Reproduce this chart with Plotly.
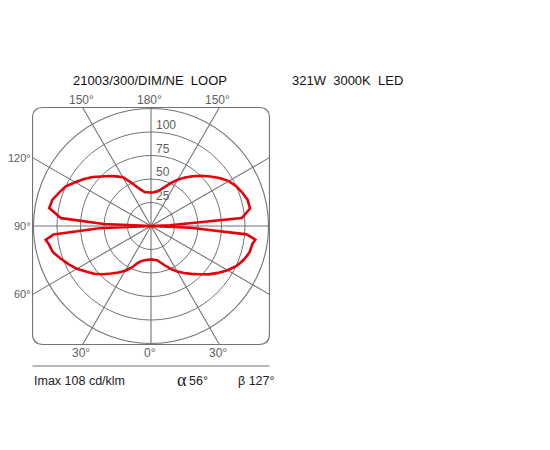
import math
import plotly.graph_objects as go

# ---- data ----
gamma = [0, 5, 10, 15, 20, 25, 30, 35, 40, 45, 50, 55, 60, 65, 70, 75, 80, 82.5, 85, 87.5,
         90, 92.5, 95, 100, 105, 110, 115, 120, 125, 130, 135, 140, 145, 150, 155, 160, 165,
         170, 175, 180]
intensity_right = [35.5, 36, 37, 40.5, 45, 50.5, 56, 61, 66.5, 72.5, 80, 87, 94, 100.5, 105,
                   108.5, 109.5, 112, 102, 42,
                   0, 20, 97, 107, 106.5, 103.5, 100, 95.5, 89, 82, 75.5, 69, 63, 57, 50.5,
                   44.5, 40, 37.5, 36, 35.5]
intensity_left = [35.5, 36, 37, 38.5, 42, 49, 55, 60.5, 66, 72.5, 79, 84.5, 91, 96.5, 102,
                  108, 110.5, 113, 104, 55,
                  0, 50, 96, 110, 108.5, 104, 100, 93, 87, 81, 74.5, 69.5, 64.5, 60, 51.5,
                  44.5, 39.5, 36.5, 36, 35.5]
ring_values = [25, 50, 75, 100]
r_max = 125
spoke_angles = [30, 60, 120, 150]
top_labels = ["150°", "180°", "150°"]
side_labels = ["120°", "90°", "60°"]
bottom_labels = ["30°", "0°", "30°"]
title_left = "21003/300/DIM/NE\u00a0 LOOP"
title_right = "321W\u00a0 3000K\u00a0 LED"
imax_text = "Imax 108 cd/klm"
alpha_text = "56°"
beta_text = "β 127°"

# ---- geometry (pixels in the final screenshot) ----
W, H = 550, 450
OFF = 8                    # page body margin
cx, cy = 151, 226          # centre in px (from top)
ppu = 0.94                 # pixels per unit
box = 126                  # half size of frame in units
corner = 11
xy_half = 140

def px(x):
    return (x - OFF) / W

def py(y):
    return 1 - (y - OFF) / H

theta = [g for g in gamma] + [360 - g for g in reversed(gamma)]
rvals = intensity_right + list(reversed(intensity_left))

fig = go.Figure()
fig.add_trace(go.Scatter(x=[], y=[], showlegend=False, hoverinfo="skip"))
fig.add_trace(go.Scatterpolar(r=rvals, theta=theta, mode="lines",
                              line=dict(color="#e3000b", width=2.6),
                              showlegend=False, hoverinfo="skip"))

grid = "#737373"
gw = 1.1
pol_r = r_max * ppu
xy_r = xy_half * ppu
fig.update_layout(
    width=W, height=H,
    margin=dict(l=0, r=0, t=0, b=0),
    paper_bgcolor="white", plot_bgcolor="rgba(0,0,0,0)",
    xaxis=dict(range=[-xy_half, xy_half], domain=[px(cx - xy_r), px(cx + xy_r)],
               visible=False, fixedrange=True),
    yaxis=dict(range=[-xy_half, xy_half], domain=[py(cy + xy_r), py(cy - xy_r)],
               visible=False, fixedrange=True),
    polar=dict(
        domain=dict(x=[px(cx - pol_r), px(cx + pol_r)],
                    y=[py(cy + pol_r), py(cy - pol_r)]),
        bgcolor="rgba(0,0,0,0)",
        radialaxis=dict(range=[0, r_max], tickvals=ring_values, showticklabels=False,
                        ticks="", showline=False, gridcolor=grid, gridwidth=gw),
        angularaxis=dict(rotation=-90, direction="counterclockwise", showgrid=False,
                         showticklabels=False, ticks="", showline=True,
                         linecolor=grid, linewidth=gw),
    ),
)

shapes = []
c = corner
b = box
path = (f"M {-b + c},{b} L {b - c},{b} Q {b},{b} {b},{b - c} L {b},{-b + c} "
        f"Q {b},{-b} {b - c},{-b} L {-b + c},{-b} Q {-b},{-b} {-b},{-b + c} "
        f"L {-b},{b - c} Q {-b},{b} {-b + c},{b} Z")
shapes.append(dict(type="path", path=path, xref="x", yref="y",
                   line=dict(color=grid, width=gw), layer="below"))
shapes.append(dict(type="line", x0=0, y0=-b, x1=0, y1=b, xref="x", yref="y",
                   line=dict(color=grid, width=gw), layer="below"))
shapes.append(dict(type="line", x0=-b, y0=0, x1=b, y1=0, xref="x", yref="y",
                   line=dict(color=grid, width=gw), layer="below"))
spoke_ends = {}
for a in spoke_angles:
    t = math.radians(a)
    dx, dy = math.sin(t), -math.cos(t)
    s = b / max(abs(dx), abs(dy))
    ex, ey = dx * s, dy * s
    spoke_ends[a] = (ex, ey)
    for sgn in (1, -1):
        shapes.append(dict(type="line", x0=0, y0=0, x1=sgn * ex, y1=ey, xref="x", yref="y",
                           line=dict(color=grid, width=gw), layer="below"))
# separator line under the frame
shapes.append(dict(type="line", x0=px(cx - b * ppu), x1=px(cx + b * ppu), y0=py(366), y1=py(366),
                   xref="paper", yref="paper", line=dict(color=grid, width=gw)))
fig.update_layout(shapes=shapes)

ann = []
font_lbl = dict(family="Arial, Liberation Sans, sans-serif", size=12, color="#606060")
font_side = dict(family="Arial, Liberation Sans, sans-serif", size=11, color="#606060")
# radial labels
for v in ring_values:
    ann.append(dict(x=3.5, y=v + 7, xref="x", yref="y", text=str(v), showarrow=False,
                    xanchor="left", yanchor="middle", font=font_lbl))
# angle labels
ex150 = spoke_ends[150][0]
ty = (cy - 100) / ppu
for x, t in zip([-ex150, 0, ex150], top_labels):
    ann.append(dict(x=x - 1.5, y=ty, xref="x", yref="y", text=t, showarrow=False,
                    xanchor="center", yanchor="middle", font=font_lbl))
by = (cy - 353) / ppu
ex30 = spoke_ends[30][0]
for x, t in zip([-ex30, 0, ex30], bottom_labels):
    ann.append(dict(x=x - 1.5, y=by, xref="x", yref="y", text=t, showarrow=False,
                    xanchor="center", yanchor="middle", font=font_lbl))
sx = (31.5 - cx) / ppu
for y, t in zip([spoke_ends[120][1], 0, spoke_ends[60][1]], side_labels):
    ann.append(dict(x=sx, y=y, xref="x", yref="y", text=t, showarrow=False,
                    xanchor="right", yanchor="middle", font=font_side, borderpad=0))

font_title = dict(family="Arial, Liberation Sans, sans-serif", size=13, color="#111111")
ann.append(dict(x=px(150), y=py(80), xref="paper", yref="paper", text=title_left,
                showarrow=False, xanchor="center", yanchor="middle", font=font_title))
ann.append(dict(x=px(290), y=py(80), xref="paper", yref="paper", text=title_right,
                showarrow=False, xanchor="left", yanchor="middle", font=font_title))
font_bot = dict(family="Arial, Liberation Sans, sans-serif", size=12.5, color="#222222")
ann.append(dict(x=px(32), y=py(381), xref="paper", yref="paper", text=imax_text,
                showarrow=False, xanchor="left", yanchor="middle", font=font_bot))
ann.append(dict(x=px(175), y=py(380), xref="paper", yref="paper", text="α",
                showarrow=False, xanchor="left", yanchor="middle",
                font=dict(family="Liberation Serif, serif", size=18, color="#222222")))
ann.append(dict(x=px(187), y=py(381), xref="paper", yref="paper", text=alpha_text,
                showarrow=False, xanchor="left", yanchor="middle", font=font_bot))
ann.append(dict(x=px(236), y=py(381), xref="paper", yref="paper", text=beta_text,
                showarrow=False, xanchor="left", yanchor="middle", font=font_bot))
fig.update_layout(annotations=ann)

fig.write_html("out.html")
